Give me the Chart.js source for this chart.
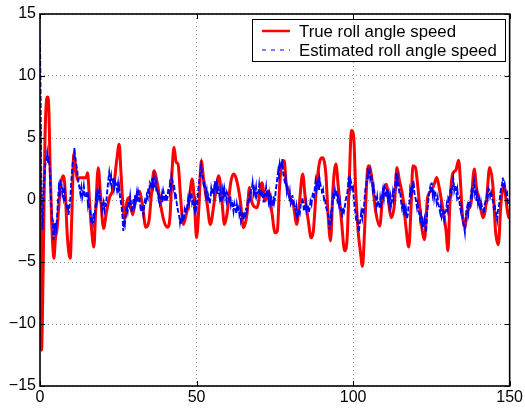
<!DOCTYPE html>
<html>
<head>
<meta charset="utf-8">
<script src="https://cdn.jsdelivr.net/npm/chart.js@4"></script>
<style>
  html, body { margin: 0; padding: 0; background: #fff; }
  #wrap { width: 525px; height: 409px; }
</style>
</head>
<body>
<div id="wrap"><canvas id="chart" width="525" height="409"></canvas></div>
<script>
// series labels
const seriesNames = ['True roll angle speed', 'Estimated roll angle speed'];
const xTicks = [0, 50, 100, 150];
const yTicks = [-15, -10, -5, 0, 5, 10, 15];

// true roll angle speed (red)
const trueX = [0, 0.25, 0.5, 0.8, 1.2, 1.6, 2.0, 2.4, 2.8, 3.2, 3.7, 4.1, 4.45, 4.9, 5.5, 6.0, 6.6, 7.5, 8.1, 8.7,
  9.65, 10.2, 10.8, 11.5, 12.0, 12.6, 14.7, 15.2, 15.8, 16.4, 17.2, 17.8, 18.6, 19.3, 20.3, 21.2, 22.2, 23.5, 24.5, 25.3,
  25.8, 26.4, 27.1, 27.7, 28.5, 29.6, 30.5, 31.7, 32.7, 33.8, 34.8, 35.6, 36.4, 37.5, 38.6, 39.6, 40.7, 41.5, 42.3, 42.8,
  43.5, 44.1, 44.9, 45.8, 46.5, 47.6, 48.6, 49.4, 50.0, 50.8, 51.5, 52.3, 53.4, 54.4, 55.7, 57.1, 58.2, 58.9, 59.7, 61.0,
  61.9, 62.7, 64.0, 65.0, 66.1, 66.9, 67.7, 69.3, 70.9, 71.9, 73.0, 74.0, 75.1, 75.8, 76.5, 77.2, 78.0, 78.6, 79.9, 80.9,
  82.0, 82.8, 83.9, 84.7, 85.7, 86.6, 87.3, 88.3, 89.4, 90.2, 91.3, 92.0, 92.8, 93.6, 94.5, 95.2, 96.3, 97.3, 98.1, 98.7,
  99.5, 100.2, 100.8, 101.6, 102.3, 103.0, 103.7, 104.5, 105.1, 106.1, 107.2, 108.5, 109.5, 110.6, 111.7, 112.2, 113.2, 114.0, 114.8, 115.9,
  116.9, 117.8, 118.5, 119.1, 119.9, 120.7, 121.7, 122.8, 123.8, 124.9, 125.9, 126.7, 127.5, 128.6, 129.7, 130.3, 130.9, 131.8, 132.8, 133.7,
  134.4, 134.9, 135.7, 136.5, 137.6, 138.7, 139.4, 140.5, 141.5, 142.6, 143.6, 144.7, 145.5, 146.4, 147.2, 148.2, 149.0, 149.7, 150];
const trueY = [5.8, -2, -12.1, -9, -2, 5, 7.8, 8.3, 7.5, 3, -1.5, -3.8, -4.7, -3.2, -2.2, -0.5, 1.27, 1.95, 0.5, -2.8,
  -4.7, -1, 3.7, 2.35, 1.6, 1.8, 1.8, 2.2, 0, -2.2, -3.8, -0.8, 2.6, 0.5, -2.3, -1.0, 0.2, 1.0, 3.2, 4.5,
  2.5, -0.08, -1.5, -0.2, 0.2, -1.2, 0, 0.7, -0.35, -2.2, -1.7, 0.5, 2.35, 1.3, -0.5, -1.7, -2.2, -1.4, 2.9, 4.25,
  3.03, 2.9, 0.2, -1.97, -1.4, -0.08, 1.7, -0.6, -3.05, -0.35, 3.16, 1.54, -0.35, -1.97, -0.08, 1.95, -0.35, -1.97, -1.16, 1.54,
  2.1, 1.7, -0.08, -2.24, -1.16, 1.0, -0.2, -0.62, 1.4, -0.08, 0.73, -0.89, -2.65, -2.5, 1.0, 2.9, 3.16, 1.4, 0.2, -0.35,
  -1.97, -0.35, 2.1, 0.2, -1.7, -3.05, -2.5, 1.0, 3.16, 3.4, 2.1, -1.16, -3.3, 1.0, 2.9, 1.27, -1.7, -4.1, -3.05, 1.0,
  5.6, 5.05, 1.0, -2.5, -4.1, -5.35, -2.24, 2.1, 2.76, 1.54, -0.89, -2.1, 0.5, 1.27, -0.89, -1.43, -0.35, 2.62, 1.54, 0.2,
  -2.24, -3.8, -0.62, 2.76, 2.62, 1.0, -1.7, -3.2, 0.2, 0.73, 1.27, 1.81, 1.0, -0.62, -2.5, -4.1, -0.35, 2.1, 2.4, 3.2,
  1.0, -1.16, -2.24, -0.89, -0.35, 2.5, 1.0, -0.35, -1.43, -0.08, 2.62, 1.0, -2.5, -3.6, -0.35, 1.27, -0.35, -1.43, -0.8];

// estimated roll angle speed (blue, noisy)
const estX = [0, 0.2, 0.35, 0.5, 0.64, 0.8, 0.95, 1.2, 1.5, 1.7, 2.0, 2.3, 2.6, 2.8, 3.1, 3.3, 3.6, 3.8, 4.1, 4.3,
  4.5, 4.7, 5.0, 5.2, 5.5, 5.7, 6.0, 6.3, 6.5, 6.8, 7.1, 7.3, 7.6, 7.9, 8.1, 8.4, 8.7, 8.9, 9.1, 9.4,
  9.7, 10.0, 10.2, 10.5, 10.8, 11.0, 11.2, 11.5, 11.9, 12.2, 12.6, 12.9, 13.2, 13.5, 13.7, 14.0, 14.3, 14.7, 15.0, 15.3,
  15.5, 15.8, 16.1, 16.4, 16.6, 16.9, 17.1, 17.4, 17.7, 18.0, 18.2, 18.5, 18.8, 19.0, 19.3, 19.6, 19.8, 20.0, 20.3, 20.6,
  20.9, 21.1, 21.4, 21.7, 21.9, 22.1, 22.4, 22.7, 22.9, 23.2, 23.5, 23.7, 24.0, 24.3, 24.6, 24.9, 25.1, 25.3, 25.6, 25.9,
  26.1, 26.4, 26.6, 26.9, 27.1, 27.4, 27.7, 28.0, 28.3, 28.5, 28.8, 29.1, 29.3, 29.6, 29.9, 30.1, 30.4, 30.6, 30.9, 31.2,
  31.4, 31.7, 32.0, 32.2, 32.5, 32.7, 33.0, 33.3, 33.5, 33.8, 34.1, 34.4, 34.6, 34.9, 35.1, 35.4, 35.7, 35.9, 36.2, 36.4,
  36.7, 37.0, 37.2, 37.5, 37.8, 38.0, 38.3, 38.6, 38.9, 39.1, 39.4, 39.6, 39.9, 40.2, 40.4, 40.7, 41.0, 41.3, 41.5, 41.8,
  42.0, 42.3, 42.6, 42.8, 43.1, 43.3, 43.6, 43.8, 44.1, 44.4, 44.7, 44.9, 45.1, 45.4, 45.7, 46.0, 46.2, 46.5, 46.8, 47.0,
  47.3, 47.6, 47.8, 48.1, 48.4, 48.6, 48.9, 49.1, 49.4, 49.7, 49.9, 50.2, 50.4, 50.7, 51.0, 51.3, 51.5, 51.8, 52.1, 52.4,
  52.6, 52.9, 53.2, 53.4, 53.7, 53.9, 54.2, 54.5, 54.7, 55.0, 55.3, 55.5, 55.8, 56.0, 56.3, 56.6, 56.8, 57.1, 57.4, 57.6,
  57.9, 58.2, 58.4, 58.7, 58.9, 59.2, 59.5, 59.7, 60.0, 60.3, 60.5, 60.8, 61.0, 61.3, 61.6, 61.8, 62.1, 62.4, 62.7, 62.9,
  63.2, 63.5, 63.7, 64.0, 64.2, 64.5, 64.8, 65.0, 65.3, 65.6, 65.8, 66.1, 66.3, 66.6, 66.9, 67.1, 67.4, 67.7, 67.9, 68.2,
  68.4, 68.7, 69.0, 69.2, 69.5, 69.8, 70.0, 70.3, 70.6, 70.9, 71.1, 71.4, 71.6, 71.9, 72.2, 72.4, 72.7, 73.0, 73.2, 73.5,
  73.8, 74.0, 74.3, 74.6, 74.8, 75.1, 75.3, 75.6, 75.8, 76.1, 76.3, 76.6, 76.9, 77.2, 77.4, 77.7, 78.0, 78.3, 78.5, 78.8,
  79.0, 79.3, 79.6, 79.8, 80.1, 80.4, 80.6, 80.9, 81.1, 81.4, 81.7, 81.9, 82.2, 82.5, 82.7, 83.0, 83.3, 83.6, 83.8, 84.1,
  84.3, 84.6, 84.9, 85.1, 85.4, 85.7, 85.9, 86.2, 86.4, 86.7, 87.0, 87.2, 87.5, 87.8, 88.0, 88.3, 88.5, 88.8, 89.1, 89.3,
  89.6, 89.9, 90.1, 90.4, 90.7, 90.9, 91.2, 91.4, 91.7, 92.0, 92.2, 92.5, 92.6, 92.9, 93.1, 93.4, 93.6, 93.9, 94.2, 94.4,
  94.7, 95.0, 95.2, 95.5, 95.8, 96.0, 96.3, 96.5, 96.8, 97.1, 97.3, 97.6, 97.8, 98.1, 98.4, 98.6, 98.7, 99.0, 99.2, 99.5,
  99.8, 100.0, 100.2, 100.5, 100.7, 101.0, 101.3, 101.6, 101.8, 102.1, 102.3, 102.6, 102.9, 103.1, 103.4, 103.7, 103.9, 104.2, 104.5, 104.7,
  105.0, 105.3, 105.5, 105.8, 106.1, 106.3, 106.6, 106.9, 107.2, 107.4, 107.7, 107.9, 108.2, 108.5, 108.7, 109.0, 109.3, 109.5, 109.8, 110.0,
  110.3, 110.6, 110.8, 111.1, 111.4, 111.6, 111.9, 112.1, 112.4, 112.7, 112.9, 113.2, 113.5, 113.7, 114.0, 114.3, 114.6, 114.8, 115.1, 115.3,
  115.6, 115.9, 116.1, 116.4, 116.7, 116.9, 117.2, 117.5, 117.7, 118.0, 118.2, 118.5, 118.8, 119.0, 119.3, 119.6, 119.8, 120.1, 120.4, 120.6,
  120.9, 121.2, 121.4, 121.7, 122.0, 122.2, 122.5, 122.8, 123.1, 123.3, 123.6, 123.8, 124.1, 124.3, 124.6, 124.9, 125.1, 125.4, 125.7, 125.9,
  126.2, 126.5, 126.7, 127.0, 127.2, 127.5, 127.8, 128.0, 128.3, 128.6, 128.8, 129.1, 129.4, 129.7, 129.9, 130.2, 130.4, 130.7, 131.0, 131.2,
  131.5, 131.8, 132.0, 132.3, 132.6, 132.8, 133.1, 133.3, 133.6, 133.9, 134.1, 134.4, 134.6, 134.9, 135.2, 135.5, 135.7, 136.0, 136.2, 136.5,
  136.8, 137.0, 137.3, 137.6, 137.8, 138.1, 138.3, 138.6, 138.9, 139.1, 139.4, 139.6, 139.9, 140.2, 140.4, 140.7, 140.9, 141.2, 141.5, 141.7,
  142.0, 142.2, 142.5, 142.8, 143.0, 143.3, 143.6, 143.8, 144.1, 144.4, 144.7, 144.9, 145.2, 145.4, 145.7, 146.0, 146.2, 146.5, 146.7, 147.0,
  147.3, 147.6, 147.8, 148.1, 148.4, 148.7, 148.9, 149.2, 149.4, 149.7, 150.0];
const estY = [12.9, 8, 3, 0.5, -0.35, -2.4, -1.5, 1, 2.2, 2.9, 3.2, 3.8, 3.0, 3.5, 2.6, 1.2, -0.35, -1.2, -2.0, -3.2,
  -2.2, -2.5, -1.8, -2.2, -1.2, -0.2, 1.0, 0.6, 1.5, 1.4, 0.6, 1.0, 0.2, 0.7, -0.2, -0.35, -0.8, -0.4, -1.2, -0.6,
  0.2, 1.5, 2.2, 3.16, 3.4, 4.2, 3.6, 3.0, 2.35, 1.5, 1.0, 0.5, 1.0, 0.2, 0.46, 1.1, 0.3, 0.2, 0.7, -0.3,
  0.1, -0.62, -1.0, -1.9, -1.4, -1.8, -1.0, -1.4, -0.6, 0.3, -0.1, 0.6, 0.2, 0.73, 0.1, -0.2, -0.9, -0.62, -0.2, -0.8,
  -0.3, -0.35, 0.5, 1.3, 1.8, 2.2, 1.5, 1.9, 1.1, 1.4, 1.8, 1.0, 1.5, 1.27, 0.8, 1.3, 0.6, 1.0, 0.2, -0.3,
  -0.62, -1.5, -2.5, -1.8, -2.0, -1.16, -0.5, -0.9, -0.1, -0.35, 0.3, -0.5, -1.0, -0.62, 0.1, -0.3, 0.4, -0.08, 0.5, -0.2,
  0.6, 0.2, -0.4, -0.9, -0.4, -0.75, -1.2, -0.5, -0.1, -0.35, 0.4, 0.2, 1.0, 0.6, 1.4, 1.27, 0.9, 1.8, 1.2, 1.7,
  1.0, 1.4, 0.6, 0.73, 0.2, 0.6, -0.3, -0.08, 0.4, -0.2, 0.7, 0.46, -0.1, 0.5, -0.1, 0.2, 0.9, 0.6, 1.3, 1.0,
  1.9, 1.54, 1.0, 1.3, 0.4, 0.6, -0.1, -0.5, -0.9, -1.16, -1.8, -1.4, -1.97, -1.3, -1.7, -1.4, -0.8, -1.1, -0.5, -0.62,
  0.1, -0.3, 0.5, 0.2, 0.6, -0.2, 0.1, -0.35, -0.8, -0.2, -0.7, -0.35, 0.5, 1.2, 1.8, 2.35, 2.8, 2.1, 1.6, 1.0,
  1.2, 0.46, 0.8, -0.1, 0.4, 0.2, -0.3, 0.3, 0.9, 0.46, 1.0, 0.6, 1.5, 1.0, 1.3, 0.5, 1.1, 0.73, 0.2, 0.6,
  -0.2, 0.2, 0.8, 0.3, 0.9, 0.46, 0.0, 0.6, 0.4, 0.2, -0.3, 0.3, -0.4, -0.08, -0.5, -0.9, -0.3, -0.62, -1.1, -0.4,
  -0.9, -0.62, -1.2, -0.9, -1.7, -1.43, -1.0, -1.6, -1.2, -1.43, -0.8, -0.9, -0.2, -0.35, 0.4, 0.2, 0.9, 1.0, 1.4, 0.6,
  0.9, 0.46, 1.0, 0.3, 0.5, 0.73, 1.2, 0.4, 0.6, 0.2, 0.7, -0.2, 0.3, 0.46, 1.0, 0.2, 0.5, -0.08, 0.4, -0.3,
  0.2, -0.08, -0.5, 0.3, -0.2, 0.2, 0.8, 1.3, 1.8, 2.4, 2.0, 2.9, 2.5, 2.6, 3.3, 2.1, 1.7, 1.27, 1.7, 0.8,
  1.2, 0.6, 0.2, 0.6, -0.3, -0.08, 0.4, -0.4, -0.2, -0.62, -1.0, -0.6, -1.4, -1.16, -0.7, -1.0, -0.3, -0.35, 0.2, -0.3,
  -0.9, -0.62, -0.2, -0.8, -0.4, -0.62, -1.0, -0.5, -0.1, -0.35, 0.3, 0.6, 0.3, 1.0, 1.5, 0.9, 1.3, 1.54, 0.8, 1.7,
  1.2, 1.0, 0.5, 0.8, 0.1, 0.2, -0.3, -0.6, -0.9, -1.16, -1.6, -2.4, -1.97, -1.2, -1.5, -0.35, 0.3, 0.0, 0.73, 0.3,
  0.8, 0.0, 0.2, -0.4, -0.1, -0.7, -0.89, -1.4, -0.6, -0.9, -0.62, -0.1, 0.2, 0.46, 1.1, 1.9, 1.54, 1.0, 1.6, 1.27,
  0.7, 0.9, 0.2, -0.6, -0.9, -1.7, -1.3, -2.24, -2.6, -1.9, -1.7, -1.0, -1.4, -0.6, -0.89, 0.2, 0.8, 1.2, 1.8, 2.6,
  2.0, 2.35, 1.7, 2.0, 1.54, 0.8, 1.1, 0.4, 0.2, -0.4, 0.2, -0.3, -0.08, -0.7, 0.1, -0.4, 0.2, 0.7, 0.2, 1.0,
  0.73, 0.2, 0.9, 0.1, 0.46, -0.3, 0.2, -0.5, -0.08, 0.6, 0.2, 1.0, 1.27, 2.2, 1.3, 1.8, 1.0, 0.5, 0.6, -0.08,
  -0.6, -0.2, -0.9, -0.62, -1.3, -0.8, -1.5, -1.16, -0.5, -0.2, 0.8, 0.46, 1.2, 0.9, 1.54, 0.5, 0.3, -0.08, -0.6, -0.3,
  -0.9, -1.16, -1.6, -1.2, -2.0, -1.7, -2.2, -1.6, -2.24, -2.6, -1.2, -0.62, 0.2, 0.6, 1.0, 0.6, 1.4, 0.46, 0.9, 0.2,
  0.7, 0.2, -0.2, 0.2, -0.3, -0.62, -1.0, -0.6, -1.4, -1.16, -0.7, -1.5, -1.0, -0.89, -0.4, -0.8, 0.1, -0.08, 0.6, 1.0,
  0.6, 1.27, 1.7, 0.8, 1.2, 1.0, 0.4, 0.8, 0.1, 0.2, -0.5, -0.9, -0.6, -1.43, -1.9, -2.24, -2.6, -1.4, -0.89, -0.5,
  -1.0, -0.1, -0.35, 0.3, 0.7, 0.4, 1.0, 1.5, 0.6, 0.9, -0.08, 0.4, -0.3, 0.1, -0.35, -0.8, -0.2, -0.6, -0.62, -1.1,
  -0.4, -0.2, -0.08, 0.5, 0.2, 0.9, 0.73, 0.3, 0.6, 0.1, -0.08, -0.6, -0.3, -0.9, -1.16, -1.6, -0.9, -0.62, -0.3, 0.5,
  1.0, 1.27, 1.8, 1.0, 1.3, 0.73, 0.3, 0.5, -0.2, -0.08, -0.3];

const toPoints = (xs, ys) => xs.map((x, i) => ({ x: x, y: ys[i] }));
const fontFamily = "'Liberation Sans', Arial, Helvetica, sans-serif";

// box round the axes plus inward ticks, like the original plot
const frameAndTicks = {
  id: 'frameAndTicks',
  afterDraw(chart) {
    const { ctx, chartArea: a, scales } = chart;
    ctx.save();
    ctx.strokeStyle = '#000';
    ctx.lineWidth = 1;
    ctx.beginPath();
    xTicks.forEach(v => {
      const px = Math.round(scales.x.getPixelForValue(v)) + 0.5;
      ctx.moveTo(px, a.bottom); ctx.lineTo(px, a.bottom - 5);
      ctx.moveTo(px, a.top); ctx.lineTo(px, a.top + 5);
    });
    yTicks.forEach(v => {
      const py = Math.round(scales.y.getPixelForValue(v)) + 0.5;
      ctx.moveTo(a.left, py); ctx.lineTo(a.left + 5, py);
      ctx.moveTo(a.right, py); ctx.lineTo(a.right - 5, py);
    });
    ctx.stroke();
    ctx.lineWidth = 1.6;
    ctx.strokeRect(a.left, a.top, a.right - a.left, a.bottom - a.top);
    ctx.restore();
  }
};

// legend box in the upper right corner of the axes
const boxLegend = {
  id: 'boxLegend',
  afterDraw(chart) {
    const { ctx } = chart;
    const x0 = 252.5, y0 = 19.5, w = 253, h = 42;
    ctx.save();
    ctx.fillStyle = '#fff';
    ctx.fillRect(x0, y0, w, h);
    ctx.strokeStyle = '#000';
    ctx.lineWidth = 1;
    ctx.strokeRect(x0, y0, w, h);
    const rows = [31, 50];
    const styles = [
      { color: '#ff0000', width: 2.5, dash: [] },
      { color: '#0000ff', width: 1, dash: [4, 5] }
    ];
    seriesNames.forEach((name, i) => {
      ctx.beginPath();
      ctx.setLineDash(styles[i].dash);
      ctx.strokeStyle = styles[i].color;
      ctx.lineWidth = styles[i].width;
      ctx.moveTo(262, rows[i]);
      ctx.lineTo(290, rows[i]);
      ctx.stroke();
      ctx.setLineDash([]);
      ctx.fillStyle = '#000';
      ctx.font = '16.8px ' + fontFamily;
      ctx.textBaseline = 'middle';
      ctx.fillText(name, 299, rows[i] + 1);
    });
    ctx.restore();
  }
};

new Chart(document.getElementById('chart'), {
  type: 'line',
  data: {
    datasets: [
      {
        label: seriesNames[1],
        data: toPoints(estX, estY),
        borderColor: '#0000ff',
        borderWidth: 1.9,
        borderDash: [5, 2],
        pointRadius: 0,
        tension: 0,
        fill: false
      },
      {
        label: seriesNames[0],
        data: toPoints(trueX, trueY),
        borderColor: '#ff0000',
        borderWidth: 3,
        pointRadius: 0,
        cubicInterpolationMode: 'monotone',
        fill: false
      }
    ]
  },
  options: {
    responsive: false,
    animation: false,
    devicePixelRatio: 1,
    layout: { padding: { top: 14, right: 13, left: 0, bottom: 0 } },
    plugins: {
      legend: { display: false },
      tooltip: { enabled: false }
    },
    scales: {
      x: {
        type: 'linear',
        min: 0,
        max: 150,
        afterFit: s => { s.height = 23; },
        afterBuildTicks: s => { s.ticks = xTicks.map(v => ({ value: v })); },
        ticks: { color: '#000', padding: 2, maxRotation: 0, font: { family: fontFamily, size: 16 } },
        grid: { color: 'rgba(0,0,0,0.4)', drawTicks: false, lineWidth: 1 },
        border: { display: false, dash: [1, 3] }
      },
      y: {
        type: 'linear',
        min: -15,
        max: 15,
        afterFit: s => { s.width = 40; },
        afterBuildTicks: s => { s.ticks = yTicks.map(v => ({ value: v })); },
        ticks: {
          color: '#000',
          padding: 4,
          font: { family: fontFamily, size: 16 },
          callback: v => (v < 0 ? '\u2212' + Math.abs(v) : String(v))
        },
        grid: { color: 'rgba(0,0,0,0.4)', drawTicks: false, lineWidth: 1 },
        border: { display: false, dash: [1, 3] }
      }
    }
  },
  plugins: [frameAndTicks, boxLegend]
});
</script>
</body>
</html>
